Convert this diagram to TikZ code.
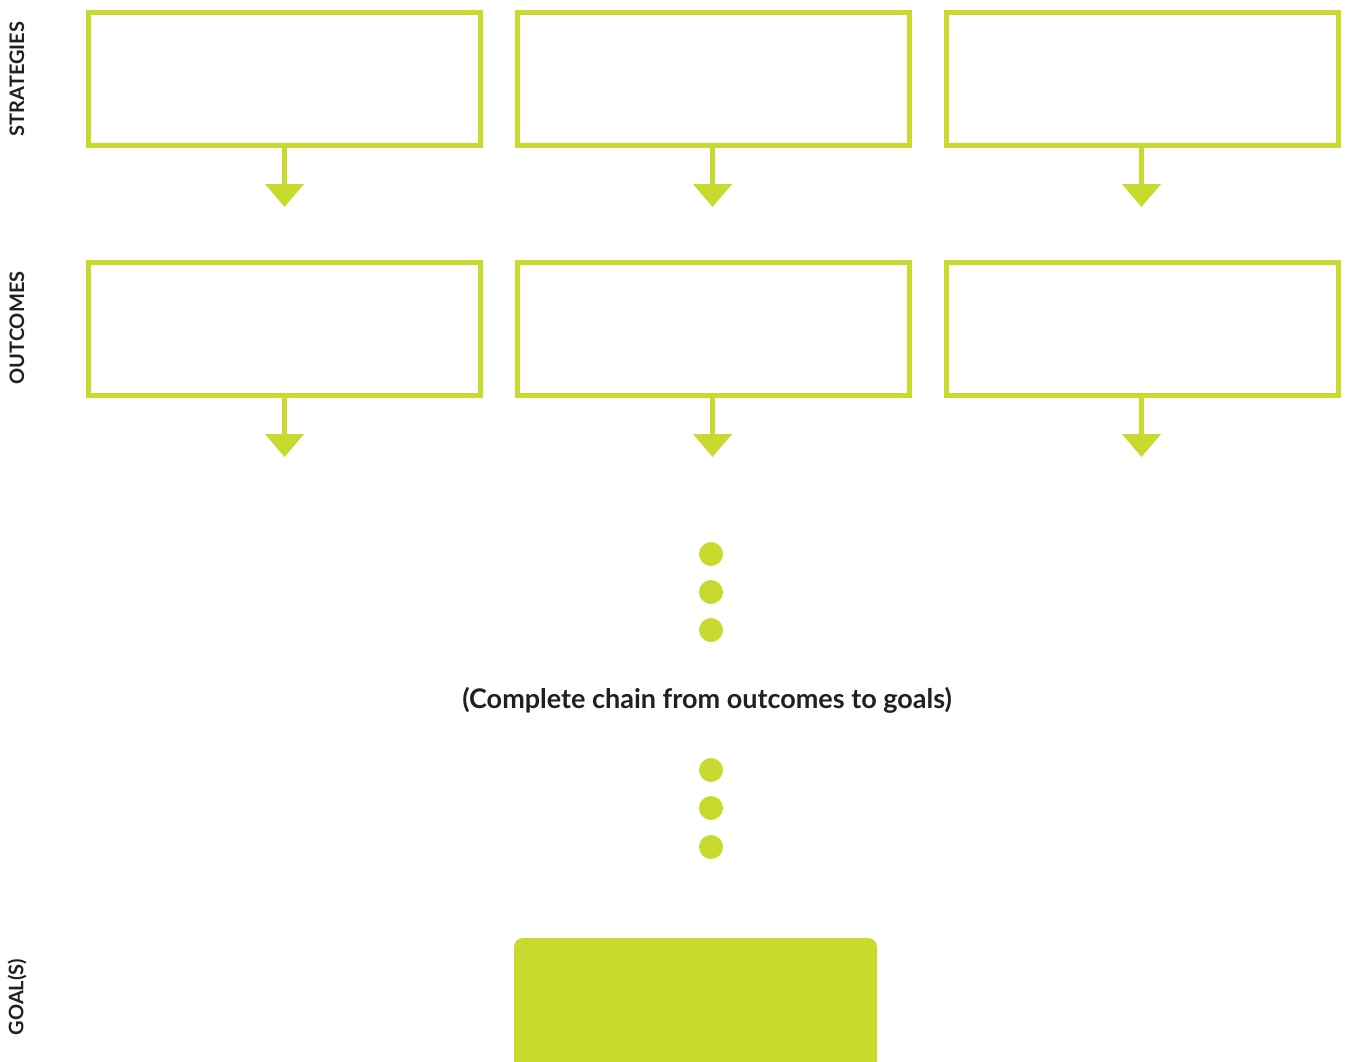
\documentclass[tikz,border=0pt]{standalone}
\usepackage{fontspec}
\setmainfont{Lato}
\usetikzlibrary{arrows.meta}
\definecolor{lime}{RGB}{200,218,46}
\definecolor{ink}{RGB}{35,31,32}
\begin{document}
\begin{tikzpicture}[x=1pt,y=-1pt,
  outbox/.style={draw=lime,line width=5pt,minimum width=392pt,minimum height=133pt,inner sep=0pt},
  flow/.style={draw=lime,line width=5pt,-{Triangle[width=38pt,length=23pt]}},
  dot/.style={circle,fill=lime,minimum size=24pt,inner sep=0pt},
  side/.style={rotate=90,font=\bfseries\fontsize{20}{24}\selectfont,text=ink,inner sep=0pt},
  goalbox/.style={fill=lime,rounded corners=9pt,minimum width=363pt,minimum height=150pt,inner sep=0pt}]
\useasboundingbox (0,0) rectangle (1347,1061);
% row 1
\node[outbox] (s1) at (284.5,78.7) {};
\node[outbox] (s2) at (713.5,78.7) {};
\node[outbox] (s3) at (1142.5,78.7) {};
% row 2
\node[outbox] (o1) at (284.5,329) {};
\node[outbox] (o2) at (713.5,329) {};
\node[outbox] (o3) at (1142.5,329) {};
% arrow ends
\coordinate (s1e) at (284.5,207);
\coordinate (s2e) at (712.5,207);
\coordinate (s3e) at (1141.5,207);
\coordinate (o1e) at (284.5,457);
\coordinate (o2e) at (712.5,457);
\coordinate (o3e) at (1141.5,457);
\draw[flow] (s1.south) -- (s1e);
\draw[flow] (s2.south -| s2e) -- (s2e);
\draw[flow] (s3.south -| s3e) -- (s3e);
\draw[flow] (o1.south) -- (o1e);
\draw[flow] (o2.south -| o2e) -- (o2e);
\draw[flow] (o3.south -| o3e) -- (o3e);
% dots
\node[dot] (d1) at (711,554) {};
\node[dot] (d2) at (711,592) {};
\node[dot] (d3) at (711,630) {};
\node[font=\bfseries\fontsize{27}{32}\selectfont,text=ink] (chain) at (707,700) {(Complete chain from outcomes to goals)};
\node[dot] (d4) at (711,770) {};
\node[dot] (d5) at (711,808) {};
\node[dot] (d6) at (711,847) {};
% goal
\node[goalbox] (goal) at (695.5,1013) {};
% side labels
\node[side] (lstr) at (17,79) {STRATEGIES};
\node[side] (lout) at (17,328) {OUTCOMES};
\node[side] (lgoal) at (17,997) {GOAL(S)};
\end{tikzpicture}
\end{document}
